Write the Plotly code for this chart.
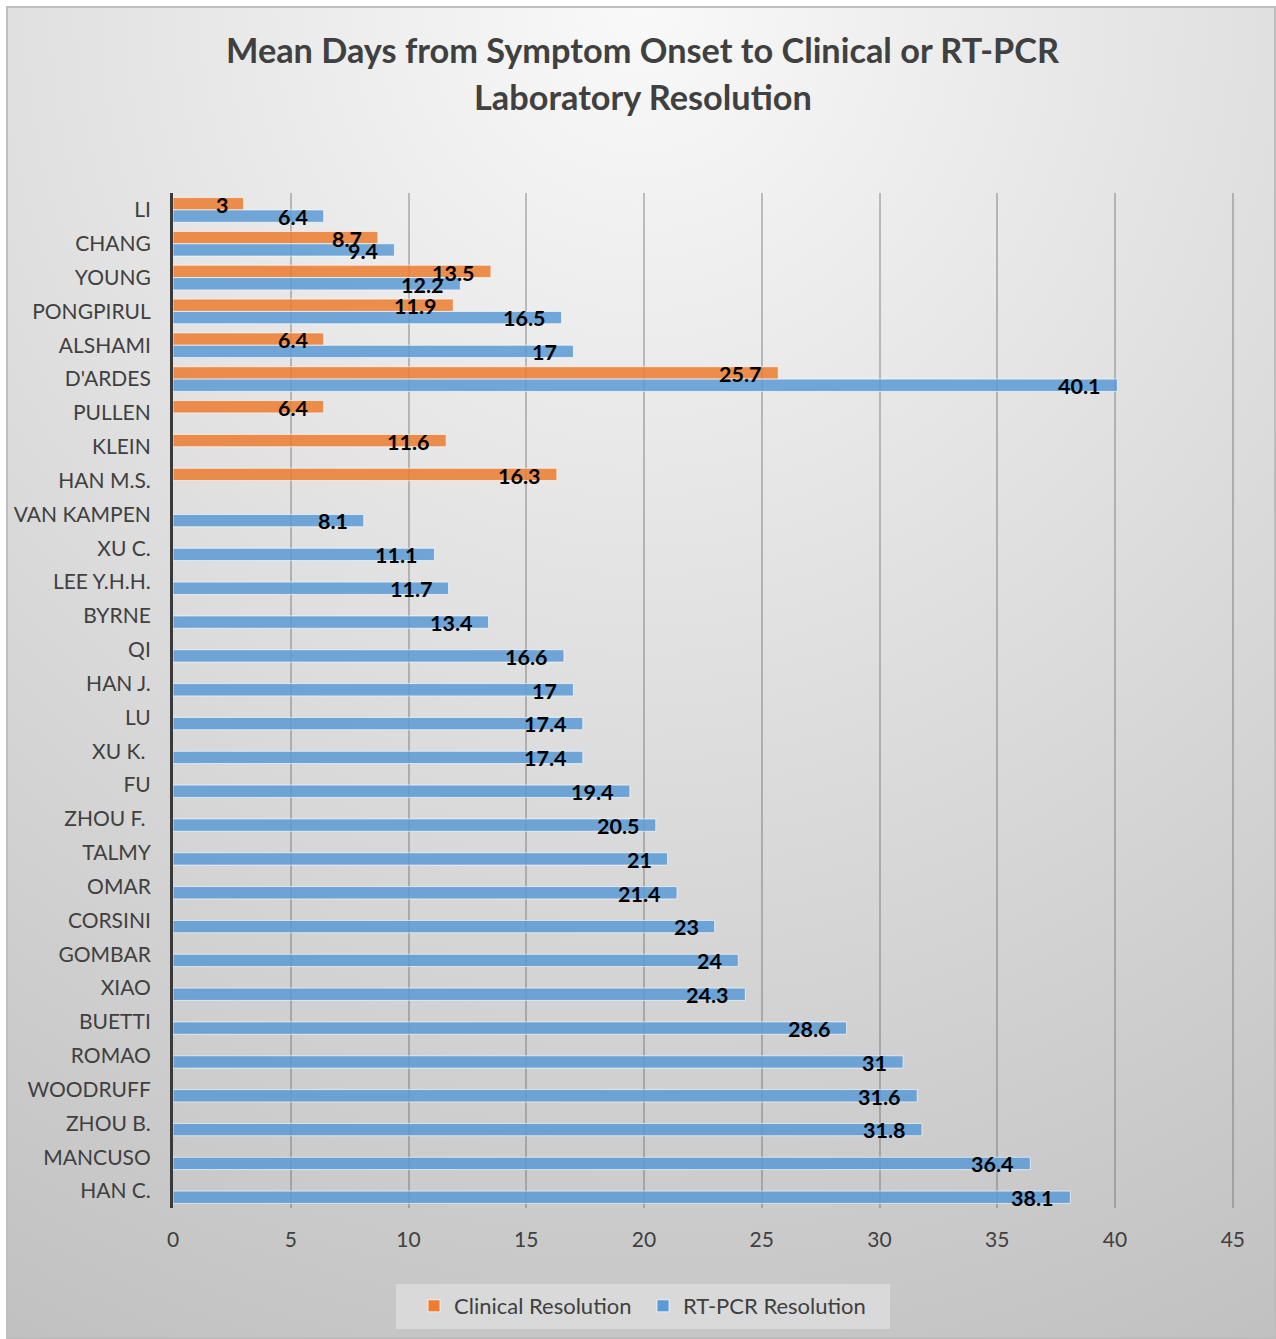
import base64
import plotly.graph_objects as go

# Study names, top to bottom
studies = [
    "LI", "CHANG", "YOUNG", "PONGPIRUL", "ALSHAMI", "D'ARDES", "PULLEN", "KLEIN",
    "HAN M.S.", "VAN KAMPEN", "XU C.", "LEE Y.H.H.", "BYRNE", "QI", "HAN J.", "LU",
    "XU K.\u00a0", "FU", "ZHOU F.\u00a0", "TALMY", "OMAR", "CORSINI", "GOMBAR", "XIAO",
    "BUETTI", "ROMAO", "WOODRUFF", "ZHOU B.", "MANCUSO", "HAN C.",
]

# Mean days from symptom onset to clinical resolution
clinical_days = [3, 8.7, 13.5, 11.9, 6.4, 25.7, 6.4, 11.6, 16.3] + [None] * 21

# Mean days from symptom onset to RT-PCR resolution
rtpcr_days = [
    6.4, 9.4, 12.2, 16.5, 17, 40.1, None, None, None, 8.1, 11.1, 11.7, 13.4, 16.6,
    17, 17.4, 17.4, 19.4, 20.5, 21, 21.4, 23, 24, 24.3, 28.6, 31, 31.6, 31.8, 36.4, 38.1,
]

x_ticks = [0, 5, 10, 15, 20, 25, 30, 35, 40, 45]

title_lines = [
    "Mean Days from Symptom Onset to Clinical or RT-PCR",
    "Laboratory Resolution",
]

FONT = "Lato"
TEXT_GREY = "#404040"
ORANGE = "#ED7D31"
BLUE = "#5B9BD5"

W, H = 1276, 1339
M_L, M_R, M_T, M_B = 173, 42, 193, 131
PW, PH = W - M_L - M_R, H - M_T - M_B


def px_to_paper_x(px):
    return (px - M_L) / PW


def py_to_paper_y(py):
    return (H - M_B - py) / PH


# Soft grey radial background for the chart frame
svg = f"""<svg xmlns='http://www.w3.org/2000/svg' width='1270' height='1333' viewBox='0 0 1270 1333' preserveAspectRatio='none'>
<defs><radialGradient id='g' cx='0.5' cy='0' r='1.15' fx='0.5' fy='0'>
<stop offset='0' stop-color='#f9f9f9'/><stop offset='1' stop-color='#bfbfbf'/></radialGradient></defs>
<rect x='1' y='1' width='1268' height='1331' fill='url(#g)' stroke='#bdbdbd' stroke-width='2'/>
</svg>"""
bg_uri = "data:image/svg+xml;base64," + base64.b64encode(svg.encode()).decode()

fig = go.Figure()
fig.add_trace(go.Bar(
    name="Clinical Resolution", y=studies, x=clinical_days, orientation="h",
    marker=dict(color=ORANGE, opacity=0.85, line=dict(color="rgba(255,255,255,0.7)", width=1)),
    hoverinfo="x+y",
))
fig.add_trace(go.Bar(
    name="RT-PCR Resolution", y=studies, x=rtpcr_days, orientation="h",
    marker=dict(color=BLUE, opacity=0.85, line=dict(color="rgba(255,255,255,0.7)", width=1)),
    hoverinfo="x+y",
))

# Value labels, right-aligned just inside the end of each bar
annotations = []
for series, shift in ((clinical_days, 5), (rtpcr_days, -7)):
    for name, val in zip(studies, series):
        if val is None:
            continue
        annotations.append(dict(
            x=val, y=name, xref="x", yref="y", text=f"{val:g}", showarrow=False,
            xanchor="right", yanchor="middle", xshift=-14, yshift=shift,
            font=dict(family=FONT, size=21.5, color="black", weight="bold"),
        ))

# Two-line chart title
for line, py in zip(title_lines, (50, 97)):
    annotations.append(dict(
        x=px_to_paper_x(643), y=py_to_paper_y(py), xref="paper", yref="paper",
        text=f"<b>{line}</b>", showarrow=False, xanchor="center", yanchor="middle",
        font=dict(family=FONT, size=34.3, color=TEXT_GREY),
    ))

fig.update_layout(
    width=W, height=H,
    margin=dict(l=M_L, r=M_R, t=M_T, b=M_B, pad=0),
    paper_bgcolor="white",
    plot_bgcolor="rgba(0,0,0,0)",
    barmode="group", bargap=0.27, bargroupgap=0,
    font=dict(family=FONT, color=TEXT_GREY),
    showlegend=True,
    legend=dict(
        orientation="h", x=px_to_paper_x(643), xanchor="center",
        y=py_to_paper_y(1306), yanchor="middle",
        bgcolor="rgba(0,0,0,0)", font=dict(family=FONT, size=22, color=TEXT_GREY),
        traceorder="normal", itemclick=False, entrywidth=184, entrywidthmode="pixels",
    ),
    annotations=annotations,
    images=[dict(
        source=bg_uri, xref="paper", yref="paper",
        x=px_to_paper_x(6), y=py_to_paper_y(6),
        sizex=(W - 6) / PW, sizey=(H - 6) / PH,
        xanchor="left", yanchor="top", sizing="stretch", layer="below",
    )],
    shapes=[dict(
        type="rect", xref="paper", yref="paper", layer="below",
        x0=px_to_paper_x(396), x1=px_to_paper_x(890),
        y0=py_to_paper_y(1329), y1=py_to_paper_y(1284),
        fillcolor="#d9d9d9", line=dict(width=0),
    )],
)

fig.update_xaxes(
    range=[0, 45.05], tickvals=x_ticks, showgrid=True,
    gridcolor="rgba(90,90,90,0.35)", gridwidth=2, zeroline=False, showline=False,
    tickfont=dict(family=FONT, size=21, color=TEXT_GREY), ticks="",
    ticklabelstandoff=17, fixedrange=True, automargin=False,
)
fig.update_yaxes(
    type="category", categoryorder="array", categoryarray=studies,
    range=[len(studies) - 0.5, -0.5], showgrid=False, zeroline=False,
    showline=True, linecolor="#3a3a3a", linewidth=3,
    tickfont=dict(family=FONT, size=21, color=TEXT_GREY), ticks="",
    ticklabelstandoff=15, fixedrange=True, automargin=False,
)

fig.write_html("out.html")
